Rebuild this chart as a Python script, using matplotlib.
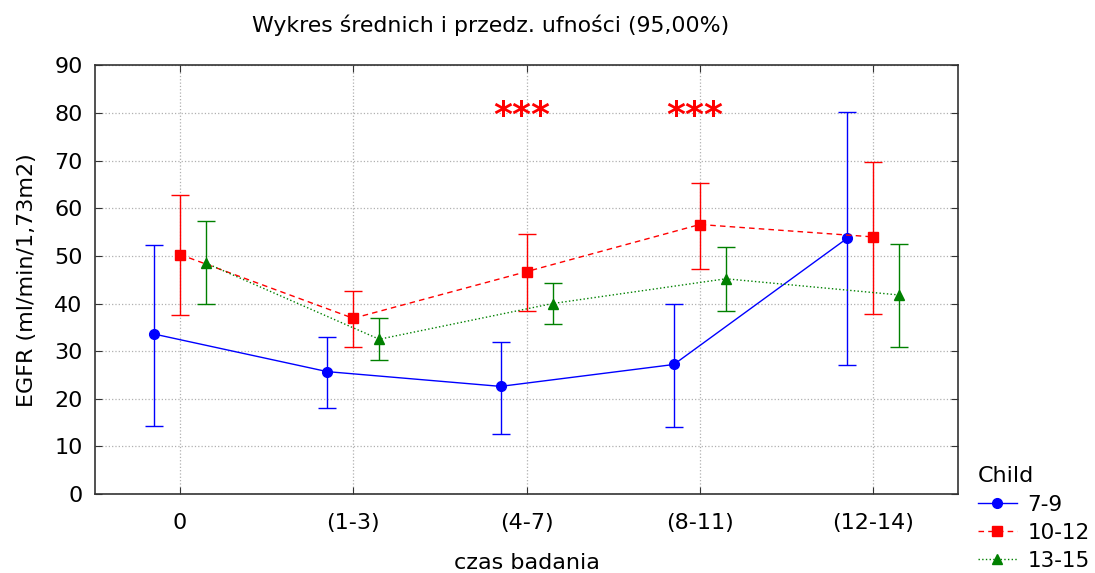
import matplotlib
matplotlib.use("Agg")
import matplotlib.pyplot as plt
import numpy as np

plt.rcParams['font.family'] = ['DejaVu Sans']

categories = ["0", "(1-3)", "(4-7)", "(8-11)", "(12-14)"]
groups = ["7-9", "10-12", "13-15"]

mean_7_9 = [33.6, 25.7, 22.6, 27.2, 53.7]
low_7_9 = [14.3, 18.1, 12.5, 14.0, 27.0]
high_7_9 = [52.3, 32.9, 31.9, 39.9, 80.2]

mean_10_12 = [50.3, 36.9, 46.7, 56.6, 54.0]
low_10_12 = [37.5, 30.8, 38.5, 47.3, 37.8]
high_10_12 = [62.9, 42.6, 54.7, 65.3, 69.7]

mean_13_15 = [48.5, 32.5, 40.0, 45.2, 41.8]
low_13_15 = [39.9, 28.1, 35.8, 38.5, 30.9]
high_13_15 = [57.3, 37.0, 44.3, 51.9, 52.6]

star_cats = [2, 3]
star_level = 77.2

fig = plt.figure(figsize=(10.95, 5.73), dpi=100)
ax = fig.add_axes([0.0868, 0.1379, 0.7881, 0.7478])

series = [
    (mean_7_9, low_7_9, high_7_9, '#0000ff', 'o', '-', -0.15),
    (mean_10_12, low_10_12, high_10_12, '#ff0000', 's', (0, (4, 3)), 0.0),
    (mean_13_15, low_13_15, high_13_15, '#008000', '^', ':', 0.15),
]
x = np.arange(len(categories))
for (m, lo, hi, c, mk, ls, off), g in zip(series, groups):
    m = np.array(m); lo = np.array(lo); hi = np.array(hi)
    ax.errorbar(x + off, m, yerr=[m - lo, hi - m], fmt='none', ecolor=c,
                elinewidth=1.0, capsize=6.5, capthick=1.0, zorder=3)
    ax.plot(x + off, m, color=c, marker=mk, linestyle=ls, linewidth=1.0,
            markersize=7, label=g, zorder=4)

for sc in star_cats:
    ax.text(sc - 0.03, star_level, "***", color='#ff0000', ha='center',
            va='baseline', fontsize=26, fontweight='bold')

ax.set_xlim(-0.49, 4.49)
ax.set_ylim(0, 90)
ax.set_xticks(x)
ax.set_xticklabels(categories)
ax.set_yticks(np.arange(0, 91, 10))
ax.tick_params(direction='in', top=True, right=True, labelsize=16, length=5,
               color='#333333')
ax.tick_params(axis='y', pad=9)
ax.tick_params(axis='x', pad=14)
ax.grid(True, linestyle=':', color='#b0b0b0', linewidth=0.9)
for s in ax.spines.values():
    s.set_color('#333333')
    s.set_linewidth(1.2)

ax.set_xlabel("czas badania", fontsize=16, labelpad=14)
ax.set_ylabel("EGFR (ml/min/1,73m2)", fontsize=16, labelpad=12)
fig.text(0.4485, 0.956, "Wykres średnich i przedz. ufności (95,00%)",
         ha='center', va='center', fontsize=15.8)

leg = fig.legend(loc='upper left', bbox_to_anchor=(0.893, 0.186), frameon=False,
                 title="Child", fontsize=15.5, title_fontsize=16, handlelength=1.8,
                 handletextpad=0.5, labelspacing=0.38, borderpad=0,
                 borderaxespad=0)
leg._legend_box.align = "left"

fig.savefig("out.png", dpi=100)
